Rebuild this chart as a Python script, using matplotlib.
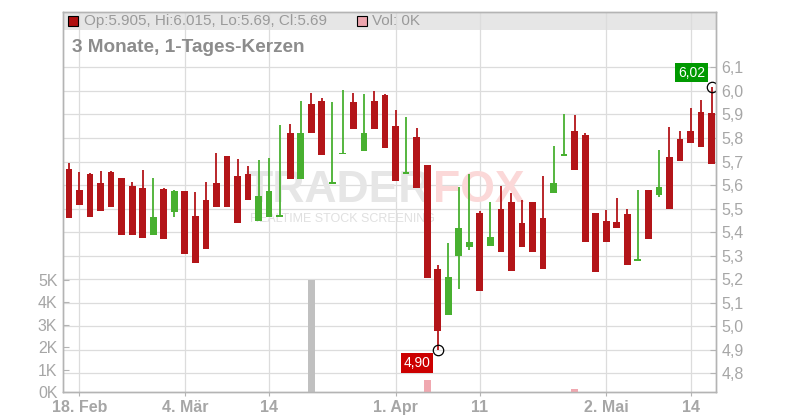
import numpy as np
import matplotlib
matplotlib.use("Agg")
import matplotlib.pyplot as plt
from matplotlib.patches import Rectangle

plt.rcParams['font.family'] = ['Liberation Sans', 'DejaVu Sans']

# Handelstage: Index 0 = 18. Feb
tage = np.arange(-1, 61)

eroeffnung = [5.669, 5.580, 5.649, 5.610, 5.654, 5.628, 5.597, 5.586, 5.386, 5.582,
              5.487, 5.576, 5.470, 5.538, 5.607, 5.725, 5.637, 5.649, 5.446, 5.466,
              5.465, 5.822, 5.627, 5.945, 5.958, 5.606, 5.730, 5.953, 5.746, 5.958,
              5.983, 5.851, 5.648, 5.805, 5.686, 5.245, 5.046, 5.300, 5.338, 5.482,
              5.343, 5.498, 5.528, 5.439, 5.528, 5.460, 5.565, 5.722, 5.831, 5.814,
              5.483, 5.449, 5.441, 5.475, 5.277, 5.577, 5.557, 5.721, 5.797, 5.831,
              5.911, 5.905]
hoch = [5.692, 5.654, 5.652, 5.661, 5.661, 5.631, 5.611, 5.666, 5.628, 5.586,
        5.580, 5.576, 5.569, 5.614, 5.734, 5.725, 5.711, 5.683, 5.708, 5.717,
        5.857, 5.861, 5.958, 5.990, 5.970, 5.953, 6.005, 5.990, 5.987, 6.000,
        5.987, 5.919, 5.891, 5.844, 5.686, 5.261, 5.354, 5.591, 5.646, 5.490,
        5.528, 5.597, 5.566, 5.536, 5.528, 5.638, 5.767, 5.900, 5.899, 5.822,
        5.483, 5.493, 5.543, 5.500, 5.581, 5.577, 5.750, 5.848, 5.831, 5.928,
        5.961, 6.015]
tief = [5.459, 5.517, 5.466, 5.489, 5.508, 5.386, 5.386, 5.377, 5.386, 5.369,
        5.463, 5.306, 5.269, 5.327, 5.508, 5.508, 5.438, 5.538, 5.446, 5.466,
        5.465, 5.627, 5.627, 5.819, 5.729, 5.606, 5.730, 5.840, 5.746, 5.840,
        5.759, 5.619, 5.648, 5.589, 5.207, 4.900, 5.046, 5.160, 5.326, 5.148,
        5.343, 5.317, 5.237, 5.338, 5.317, 5.245, 5.565, 5.722, 5.666, 5.358,
        5.229, 5.358, 5.417, 5.260, 5.277, 5.370, 5.548, 5.497, 5.701, 5.777,
        5.760, 5.690]
schluss = [5.459, 5.517, 5.466, 5.489, 5.508, 5.386, 5.386, 5.377, 5.463, 5.369,
           5.573, 5.306, 5.269, 5.327, 5.508, 5.508, 5.438, 5.538, 5.552, 5.573,
           5.468, 5.627, 5.822, 5.819, 5.729, 5.609, 5.733, 5.840, 5.822, 5.840,
           5.759, 5.619, 5.651, 5.589, 5.207, 4.981, 5.210, 5.418, 5.358, 5.148,
           5.379, 5.317, 5.237, 5.338, 5.317, 5.245, 5.610, 5.733, 5.666, 5.358,
           5.229, 5.358, 5.417, 5.260, 5.280, 5.370, 5.593, 5.497, 5.701, 5.777,
           5.760, 5.690]

vol_tage = [22, 33, 47]
volumen = [5000, 550, 130]
vol_farben = ['#c0c0c0', '#f0a8b0', '#f0a8b0']

datum_pos = [0, 10, 18, 30, 38, 50, 58]
datum_txt = ['18. Feb', '4. Mär', '14', '1. Apr', '11', '2. Mai', '14']

preis_ticks = [4.8, 4.9, 5.0, 5.1, 5.2, 5.3, 5.4, 5.5, 5.6, 5.7, 5.8, 5.9, 6.0, 6.1]
preis_txt = ['4,8', '4,9', '5,0', '5,1', '5,2', '5,3', '5,4', '5,5', '5,6', '5,7',
             '5,8', '5,9', '6,0', '6,1']
vol_ticks = [0, 1000, 2000, 3000, 4000, 5000]
vol_txt = ['0K', '1K', '2K', '3K', '4K', '5K']

ROT = '#b31519'
GRUEN = '#48b030'
GRAU = '#a6a6a6'
ACHSE = '#b4b4b4'

fig = plt.figure(figsize=(8, 4.2), dpi=100)
rect = [63 / 800, 28 / 420, 653 / 800, 380 / 420]
ax = fig.add_axes(rect)
axv = fig.add_axes(rect, sharex=ax)
axv.patch.set_visible(False)

# Kopfleiste
ax.add_patch(Rectangle((0, 0.9526), 1, 0.0474, transform=ax.transAxes,
                       facecolor='#e6e6e6', edgecolor='none', zorder=0.1))

# Wasserzeichen
ax.text((245 - 63) / 653, (392 - 191) / 380, 'TRADER', transform=ax.transAxes,
        fontsize=32, fontweight='bold', color='#e6e6e6', va='center', ha='left', zorder=0.6)
ax.text((433 - 63) / 653, (392 - 191) / 380, 'FOX', transform=ax.transAxes,
        fontsize=32, fontweight='bold', color='#fbd8d8', va='center', ha='left', zorder=0.6)
ax.text((250 - 63) / 653, (392 - 219) / 380, 'REALTIME STOCK SCREENING', transform=ax.transAxes,
        fontsize=9, color='#e0e0e0', va='center', ha='left', zorder=0.6)

# Kerzen
o = np.array(eroeffnung)
c = np.array(schluss)
farben = [GRUEN if cc > oo else ROT for oo, cc in zip(o, c)]
unten = np.minimum(o, c)
hoehe = np.maximum(np.abs(c - o), 0.008)
ax.vlines(tage, tief, hoch, colors=farben, lw=1.3, zorder=2)
ax.bar(tage, hoehe, bottom=unten, width=0.64, color=farben, zorder=3)

# Markierungen Tief / Hoch
ax.plot(tage[35], tief[35], 'o', ms=7.5, mfc='none', mec='black', mew=0.9, zorder=4)
ax.plot(tage[61], hoch[61], 'o', ms=7.5, mfc='none', mec='black', mew=0.9, zorder=4)
ax.annotate('4,90', (tage[35], tief[35]), xytext=(-15, -9.5), textcoords='offset points',
            ha='center', va='center', fontsize=10, color='white', zorder=5,
            bbox=dict(boxstyle='square,pad=0.2', fc='#cc0000', ec='none'))
ax.annotate('6,02', (tage[61], hoch[61]), xytext=(-14.5, 10.6), textcoords='offset points',
            ha='center', va='center', fontsize=10, color='white', zorder=5,
            bbox=dict(boxstyle='square,pad=0.2', fc='#009900', ec='none'))

# Volumen
axv.bar(vol_tage, volumen, width=0.64, color=vol_farben, zorder=2)

ax.set_xlim(-1.565, 60.42)
ax.set_ylim(4.721, 6.335)
axv.set_ylim(0, 16960)

ax.set_xticks(datum_pos)
ax.set_xticklabels(datum_txt, fontsize=11.5, fontweight='bold', color=GRAU)
ax.yaxis.tick_right()
ax.set_yticks(preis_ticks)
ax.set_yticklabels(preis_txt, fontsize=11.5, color=GRAU)
axv.set_yticks(vol_ticks)
axv.set_yticklabels(vol_txt, fontsize=11.5, color=GRAU)
axv.yaxis.tick_left()
axv.tick_params(axis='x', bottom=False, labelbottom=False)

ax.tick_params(axis='x', direction='out', length=3, color=ACHSE, pad=3)
ax.tick_params(axis='y', direction='in', length=4, color=ACHSE, pad=4)
axv.tick_params(axis='y', direction='in', length=4, color=ACHSE, pad=4)

ax.grid(True, color='#dcdcdc', lw=0.9, zorder=0.5)
ax.set_axisbelow(True)
for a in (ax, axv):
    for s in a.spines.values():
        s.set_color(ACHSE)
        s.set_linewidth(1)

# Legende oben
fig.patches.append(Rectangle((68 / 800, 1 - 26 / 420), 10 / 800, 10 / 420, transform=fig.transFigure,
                             facecolor='#b01010', edgecolor='black', lw=0.8, figure=fig))
fig.text(84 / 800, 1 - 21 / 420, 'Op:5.905, Hi:6.015, Lo:5.69, Cl:5.69', fontsize=11,
         color='#9a9a9a', va='center', ha='left')
fig.patches.append(Rectangle((357 / 800, 1 - 26 / 420), 10 / 800, 10 / 420, transform=fig.transFigure,
                             facecolor='#eda5ae', edgecolor='black', lw=0.8, figure=fig))
fig.text(372 / 800, 1 - 21 / 420, 'Vol: 0K', fontsize=11, color='#9a9a9a', va='center', ha='left')

fig.text(72 / 800, 1 - 47.5 / 420, '3 Monate, 1-Tages-Kerzen', fontsize=13.7, fontweight='bold',
         color='#8c8c8c', va='center', ha='left')

plt.savefig('out.png', dpi=100)
